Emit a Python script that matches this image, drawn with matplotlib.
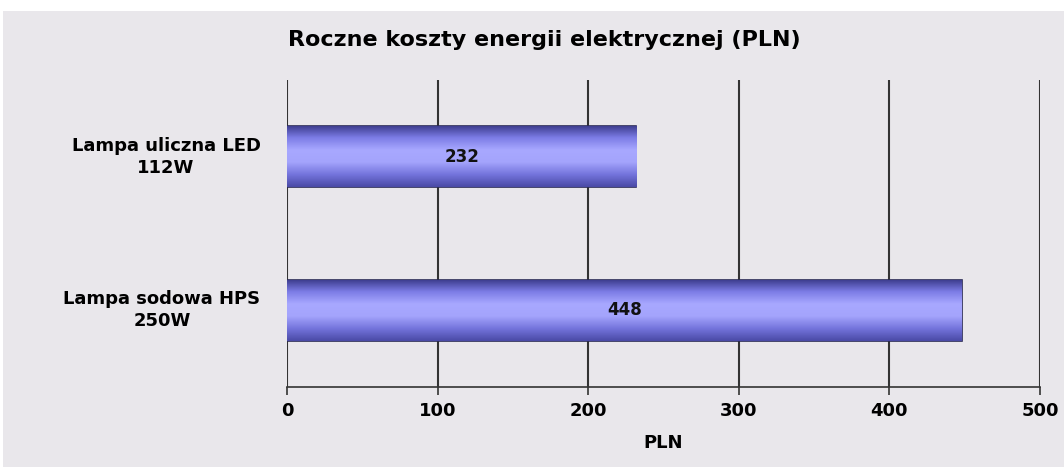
import numpy as np
import matplotlib.pyplot as plt
from matplotlib.colors import LinearSegmentedColormap
from matplotlib.patches import Rectangle

categories = ["Lampa uliczna LED\n112W", "Lampa sodowa HPS\n250W"]
values = [232, 448]
ticks = [0, 100, 200, 300, 400, 500]
title = "Roczne koszty energii elektrycznej (PLN)"
xlabel = "PLN"

bg = "#e9e7eb"
fig = plt.figure(figsize=(10.64, 4.67), dpi=100, facecolor=bg)
# white strips at top and left edge of the picture
fig.patches.append(Rectangle((0, 456 / 467), 1, 11 / 467, transform=fig.transFigure,
                             facecolor="white", edgecolor="none"))
fig.patches.append(Rectangle((0, 0), 3 / 1064, 1, transform=fig.transFigure,
                             facecolor="white", edgecolor="none"))

ax = fig.add_axes([287 / 1064, 80 / 467, 753 / 1064, 307 / 467])
ax.set_facecolor(bg)

ypos = np.arange(len(categories))
bars = ax.barh(ypos, values, height=0.4, color="#9c9cf5", edgecolor="#2a2a55", linewidth=1.2, zorder=3)

# gradient fill (dark edges, light middle)
cmap = LinearSegmentedColormap.from_list("bar", ["#3a3a8a", "#7c7ce6", "#a8a8ff", "#a4a4fc", "#7474dc", "#4a4aa6"])
grad = np.linspace(0, 1, 128).reshape(-1, 1)
for b in bars:
    x0, y0 = b.get_x(), b.get_y()
    w, h = b.get_width(), b.get_height()
    im = ax.imshow(grad, cmap=cmap, aspect="auto", extent=[x0, x0 + w, y0 + h, y0],
                   zorder=3.5, interpolation="bicubic")
    im.set_clip_path(b)
    ax.text(x0 + w / 2, y0 + h / 2, str(int(w)), ha="center", va="center",
            fontsize=12, fontweight="bold", color="#111111", zorder=5)

ax.set_xlim(0, 500)
ax.set_ylim(len(categories) - 0.5, -0.5)
ax.set_xticks(ticks)
ax.set_xticklabels([str(t) for t in ticks], fontsize=13, fontweight="bold")
ax.set_yticks(ypos)
ax.set_yticklabels(categories, fontsize=13, fontweight="bold", linespacing=1.3,
                   multialignment="center", va="bottom")
for lbl in ax.get_yticklabels():
    lbl.set_va("center")
ax.tick_params(axis="y", length=0, pad=19)
ax.tick_params(axis="x", direction="out", length=6, width=1.2, color="#333333", pad=5)
ax.xaxis.grid(True, color="#333333", linewidth=1.5, zorder=1)
ax.set_axisbelow(True)
for s in ["top", "right", "left"]:
    ax.spines[s].set_visible(False)
ax.spines["bottom"].set_color("#333333")
ax.spines["bottom"].set_linewidth(1.2)
ax.set_xlabel(xlabel, fontsize=13, fontweight="bold", labelpad=10)

fig.text(544 / 1064, 1 - 40 / 467, title, ha="center", va="center", fontsize=16, fontweight="bold")

fig.savefig("out.png", dpi=100, facecolor=fig.get_facecolor())
